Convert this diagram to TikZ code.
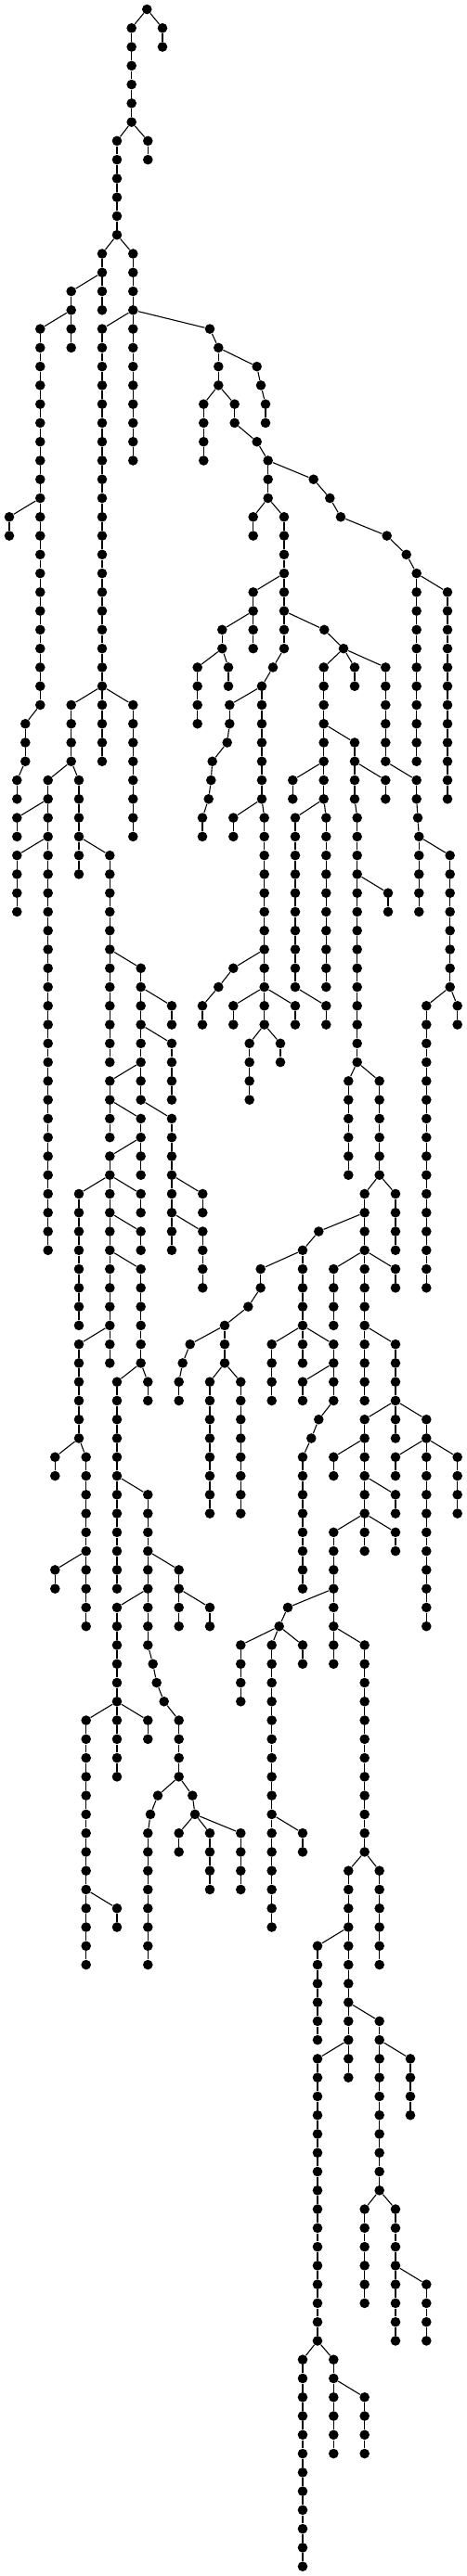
\documentclass[tikz,border=0pt]{standalone}
\usepackage{tikz}
\tikzset{
  treedot/.style={circle, fill=black, inner sep=0pt, minimum size=5.3pt},
  treeedge/.style={draw=black, line width=0.55pt}
}
\begin{document}
\begin{tikzpicture}[x=0.5pt, y={(0pt,-10.135pt)}]
  \useasboundingbox (0,-0.4933) rectangle (503,136.51);
  \node[treedot] (r1-0) at (158.3,0) {};
  \foreach \r/\x/\a/\b/\p in {
    r2/141.7/1/6/r1-0, r3/175/1/2/r1-0,
    r4/126/7/12/r2-6, r5/159.3/7/8/r2-6,
    r6/110/13/16/r4-12, r7/143.3/13/24/r4-12,
    r8/76.7/15/18/r6-14,
    r9/43.3/17/37/r8-16, r10/110/17/40/r7-16, r11/226/17/17/r7-16,
    r12/235.3/18/20/r11-17, r13/276.7/19/19/r12-18, r14/281/20/20/r13-19,
    r15/286/21/22/r14-20, r16/219.3/21/24/r12-20, r17/252.7/21/22/r12-20,
    r18/276.7/23/23/r17-22, r19/288.7/24/26/r18-23, r20/337.7/25/25/r19-24,
    r26/355.3/26/26/r20-25,
    r21/10/27/28/r9-26, r22/272.7/27/28/r19-26, r23/306/27/34/r19-26, r27/367/27/27/r26-26,
    r28/416.7/28/28/r27-27, r29/437.7/29/29/r28-28, r30/448.7/30/40/r29-29,
    r24/272.7/31/34/r23-30, r31/482/31/42/r30-30,
    r25/239.3/33/34/r24-32, r32/349.3/33/33/r23-32, r33/370/34/34/r32-33,
    r34/212.7/35/38/r25-34, r35/246/35/36/r25-34, r36/294/35/35/r23-34,
    r46/348.7/35/42/r33-34, r47/382/35/36/r33-34, r48/415.3/35/40/r33-34,
    r37/282/36/42/r36-35,
    r38a/247.3/37/38/r37-36, r61/76.7/37/40/r10-36, r62/143.3/37/44/r10-36,
    r59/27.3/38/40/r9-37,
    r38b/244.7/39/39/r38a-38, r49/382/39/42/r46-38,
    r38c/228.7/40/40/r38b-39,
    r38d/227.3/41/41/r38c-40, r50/415.3/41/42/r49-40, r51/448.7/41/42/r48-40,
    r53/315.3/41/42/r46-40, r60/18.3/41/42/r59-40, r63/51.7/41/66/r61-40, r64/85/41/46/r61-40,
    r38e/224.7/42/42/r38d-41,
    r38f/218/43/44/r38e-42, r39/251.3/43/44/r37-42, r40/284.7/43/54/r37-42,
    r46b/351.3/43/52/r46-42, r49b/384.7/43/56/r49-42, r51b/450/43/43/r51-42,
    r54/318/43/52/r46-42, r65/18.3/43/44/r63-42,
    r51c/451.3/44/48/r51b-43,
    r52/484.7/45/52/r51c-44, r66/18.3/45/48/r63-44, r67/118.3/45/56/r64-44,
    r56/418/47/48/r49b-46,
    r41a/251.3/51/51/r40-50, r68/151.7/51/58/r67-50,
    r41b/235.3/52/52/r41a-51,
    r41c/218/53/54/r41b-52, r42/251.3/53/54/r40-52, r43/318/53/54/r40-52,
    r55/351.3/53/54/r54-52, r57/459.3/53/68/r52-52, r58/492.7/53/54/r52-52, r69/185/53/54/r68-52,
    r44/268.7/55/58/r40-54, r45/302/55/56/r40-54, r70/185/55/58/r68-54,
    r71/118.3/57/60/r68-56, r101/375.3/57/62/r49b-56, r102/408.7/57/62/r49b-56,
    r72/185/59/66/r68-58, r73/151.7/59/62/r71-58,
    r74/118.3/61/72/r73-60,
    r75/218.3/63/64/r72-62, r77/85/63/70/r74-62, r78/151.7/63/64/r74-62,
    r103/392.7/63/74/r102-62, r104/426/63/66/r102-62,
    r76/218.3/65/68/r72-64, r79/151.7/65/66/r74-64, r105/343.3/65/65/r103-64,
    r106/326/66/72/r105-65,
    r80/151.7/67/72/r74-66, r107/280.7/67/68/r106-66, r116/359.3/67/70/r103-66, r117/426/67/68/r103-66,
    r108/267.3/69/69/r107-68, r109/242/70/72/r108-69,
    r81/85/71/76/r74-70, r110/204.7/71/71/r109-70, r113/292.7/71/74/r106-70,
    r114/359.3/71/74/r106-70, r118/426/71/74/r103-70,
    r110b/196.7/72/72/r110-71,
    r82/159.3/73/74/r80-72, r83/126/73/84/r80-72, r110c/192.7/73/74/r110b-72,
    r111/226/73/80/r109-72, r112/259.3/73/80/r109-72, r115/326/73/74/r114-72,
    r114b/343.3/75/75/r114-74, r119/392.7/75/82/r118-74, r120/426/75/76/r118-74, r121/459.3/75/86/r118-74,
    r114c/335.3/76/76/r114b-75,
    r84/59.3/77/78/r81-76, r85/92.7/77/86/r81-76, r114d/326/77/84/r114c-76,
    r122/359.3/77/78/r119-76, r124/426/77/78/r121-76, r125/492.7/77/80/r121-76,
    r86/159.3/79/87/r83-78, r123/426/79/80/r119-78,
    r126/359.3/81/88/r119-80, r127/426/81/82/r119-80,
    r87/59.3/83/84/r85-82, r88/192.7/83/86/r86-82,
    r89/126/85/90/r86-84, r90/226/85/86/r88-84, r128/310/85/85/r126-84,
    r128b/300.7/86/86/r128-85,
    r129/392.7/87/98/r126-86, r130/259.3/87/90/r128b-86, r131/292.7/87/102/r128b-86, r132/326/87/88/r128b-86,
    r91a/164.7/88/88/r86-87, r91b/168.7/89/89/r91a-88, r91c/176.7/90/90/r91b-89,
    r91d/192.7/91/94/r91c-90, r92/92.7/91/104/r89-90, r93/126/91/94/r89-90, r94/159.3/91/92/r89-90,
    r95a/170/95/95/r91d-94, r96/207.3/95/95/r91d-94,
    r95b/162/96/96/r95a-95, r96b/210/96/96/r96-95,
    r95c/159.3/97/104/r95b-96, r97/192.7/97/98/r96b-96, r98/226/97/100/r96b-96,
    r99/259.3/97/100/r96b-96, r133/326/97/98/r131-96,
    r134/375.3/99/110/r129-98, r135/408.7/99/104/r129-98,
    r100/126/101/102/r92-100,
    r136/342/103/108/r134-102, r137/408.7/107/116/r134-106,
    r138/342/109/124/r134-108, r139/442/109/112/r137-108,
    r140/392.7/117/122/r137-116, r141/426/117/124/r137-116,
    r142/459.3/121/124/r141-120,
    r143/326/125/136/r138-124, r144/359.3/125/130/r138-124,
    r145/392.7/127/130/r144-126}{
    \foreach \l in {\a,...,\b}{
      \node[treedot] (\r-\l) at (\x,\l) {};
      \ifnum\l>\a
        \pgfmathtruncatemacro\prevl{\l-1}
        \draw[treeedge] (\r-\prevl) -- (\r-\l);
      \fi
    }
    \draw[treeedge] (\p) -- (\r-\a);
  }
\end{tikzpicture}
\end{document}
